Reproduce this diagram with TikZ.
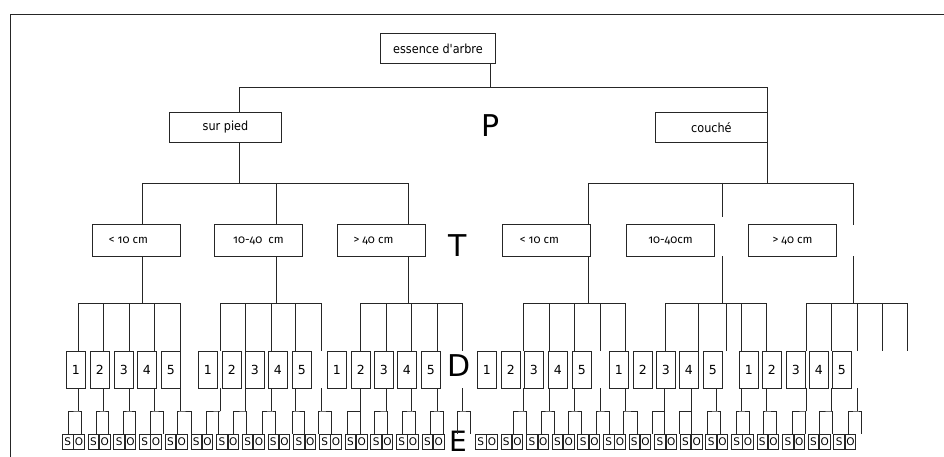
\documentclass[tikz,border=0pt]{standalone}
\usepackage{fontspec}
\setmainfont{DejaVu Sans}
\newfontfamily\condfont{DejaVu Sans Condensed}
\newfontfamily\oldnum[Numbers=OldStyle]{Fira Sans}
\usetikzlibrary{positioning}
\tikzset{
  catbox/.style={
    rectangle, draw=black!85, fill=white, line width=0.9pt,
    minimum height=30pt, inner sep=0pt, anchor=north west,
    font=\condfont\fontsize{12.5}{14}\selectfont
  },
  sizebox/.style={catbox, minimum height=32pt, minimum width=88pt, font=\oldnum\fontsize{11.5}{13}\selectfont},
  digitbox/.style={
    rectangle, draw=black!85, fill=white, line width=0.9pt,
    minimum width=19pt, minimum height=37pt, inner sep=0pt, anchor=north west,
    font=\fontsize{12.5}{14}\selectfont
  },
  sobox/.style={
    rectangle, draw=black!85, line width=0.9pt,
    minimum width=10.5pt, minimum height=15pt, inner sep=0pt, anchor=north west,
    font=\fontsize{10.5}{11}\selectfont
  },
  levelmark/.style={font=\fontsize{30}{32}\selectfont, inner sep=0pt, text depth=0pt, anchor=base},
  treeline/.style={draw=black!85, line width=0.9pt},
}

\begin{document}
\begin{tikzpicture}[x=1pt, y=-1pt]
  \useasboundingbox (0,0) rectangle (944,457);
  \draw[treeline] (944,14) -- (10,14) -- (10,457);

  \node (root) [catbox, minimum width=115pt] at (380,33) {essence d'arbre};
  \node (sp) [catbox, minimum width=112pt] at (169,112) {sur pied};
  \node (couche) [catbox, minimum width=112pt] at (655,112) {couché};

  \node (tA) [sizebox] at (92,224) {\hspace*{-16pt}< 10 cm};
  \node (tB) [sizebox] at (214,224) {10-40~ cm};
  \node (tC) [sizebox] at (337,224) {\hspace*{-16pt}> 40 cm};
  \node (tD) [sizebox] at (502,224) {\hspace*{-14pt}< 10 cm};
  \node (tE) [sizebox] at (626,224) {10-40cm};
  \node (tF) [sizebox] at (748,224) {> 40 cm};

  \node (lvP) [levelmark] at (491,137) {P};
  \node (lvT) [levelmark] at (458,256) {T};
  \node (lvD) [levelmark] at (459,376) {D};
  \node (lvE) [levelmark, font=\fontsize{28}{30}\selectfont] at (458,451) {E};

  \foreach \x [count=\i] in {66,90,114,137,161,198,222,245,268,292,327,351,374,397,421,
                              477,501,524,548,572,609,633,656,679,703,739,762,786,809,832}{
    \pgfmathtruncatemacro{\lab}{mod(\i-1,5)+1}
    \node (d\i) [digitbox] at (\x,351) {\lab};
  }
  \foreach \k in {0,...,14}{
    \node (sL\k) [sobox] at (62+25.7*\k,434) {S};
    \node (oL\k) [sobox] at (73.3+25.7*\k,434) {O};
    \node (sR\k) [sobox] at (475+25.6*\k,434) {S};
    \node (oR\k) [sobox] at (486.3+25.6*\k,434) {O};
  }

  \draw[treeline] (root.south -| 490,0) -- (490,87);
  \draw[treeline] (sp.north -| 239,0) |- (couche.north east |- 0,87) -- (couche.north east);
  \draw[treeline] (sp.south -| 239,0) -- (239,183);
  \draw[treeline] (couche.south east) -- (couche.south east |- 0,183);

  \draw[treeline] (tA.north -| 142,0) |- (408,183) -- (tC.north -| 408,0);
  \draw[treeline] (276,183) -- (tB.north -| 276,0);
  \draw[treeline] (tD.north -| 588,0) |- (853,183) -- (853,225);
  \draw[treeline] (722,183) -- (722,217);
  \foreach \x in {142,276,408,588,722,853}
    \draw[treeline] (\x,256) -- (\x,303);

  \foreach \a/\b in {78/180,220/321,360/462,523/625,665/766,806/907}
    \draw[treeline] (\a,303) -- (\b,303);
  \foreach \x in {78,103,129,154,180,220,245,271,295,321,360,386,411,437,462,
                  523,549,574,600,625,665,698,726,741,766,806,831,857,882,907}
    \draw[treeline] (\x,303) -- (\x,351);

  \foreach \s/\a/\b in {78/68/81,103/96/108,129/123/135,154/150/163,180/177/191,
                        220/206/218,245/233/246,271/262/275,295/292/304,321/318/331,
                        360/347/360,386/374/387,411/402/415,437/430/443,462/457/470,
                        523/513/526,549/541/554,574/568/581,600/596/609,625/623/637,
                        664/652/664,691/679/691,716/707/720,741/736/749,766/763/776,
                        806/792/805,831/819/832,857/848/861}{
    \draw[treeline] (\s,388) -- (\s,411);
    \draw[treeline] (\a,434) -- (\a,411) -- (\s,411) -- (\b,411) -- (\b,434);
  }
\end{tikzpicture}
\end{document}
